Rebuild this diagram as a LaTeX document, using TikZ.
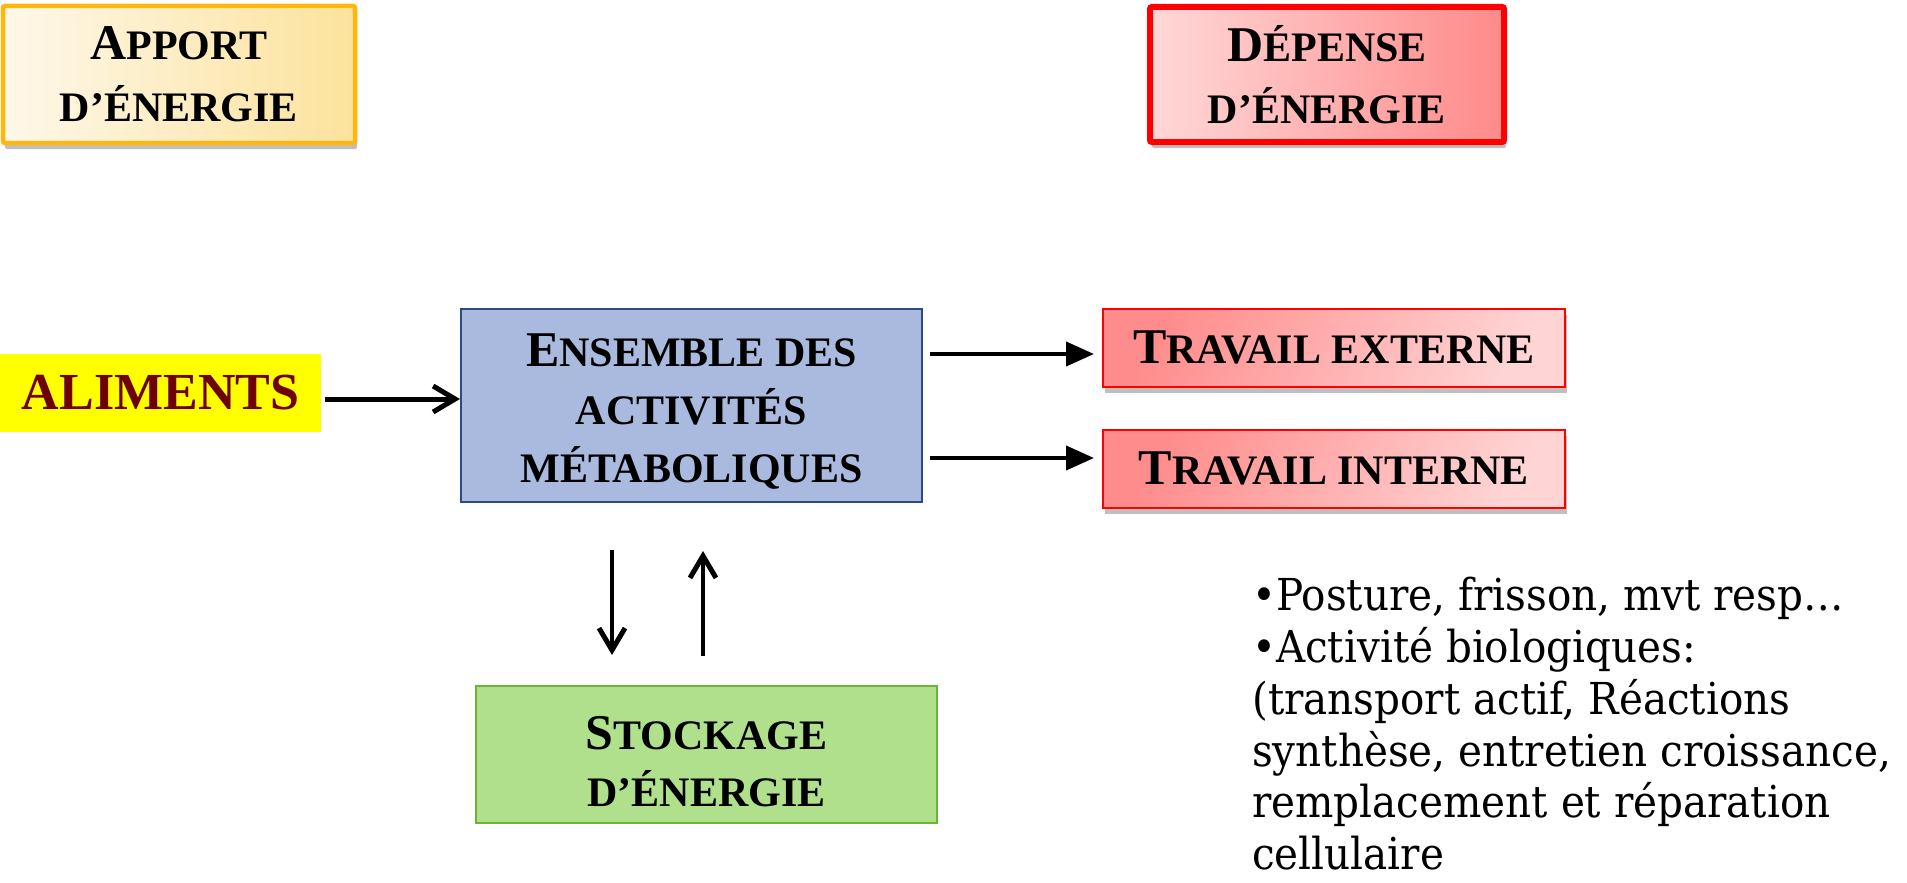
\documentclass[tikz,border=0pt]{standalone}
\usepackage{fontspec}
\setmainfont{Liberation Serif}
\newfontfamily\bulfont[FakeStretch=0.92]{DejaVu Serif}
\usetikzlibrary{arrows.meta,shadows}
\definecolor{apBorder}{HTML}{FFB70F}
\definecolor{apL}{HTML}{FEF8EA}
\definecolor{apR}{HTML}{FCE29C}
\definecolor{dpBorder}{HTML}{FF0000}
\definecolor{dpL}{HTML}{FFD8D8}
\definecolor{dpR}{HTML}{FF8A8A}
\definecolor{alFill}{HTML}{FFFF00}
\definecolor{alText}{HTML}{6E0000}
\definecolor{ctFill}{HTML}{AAB9DE}
\definecolor{ctBorder}{HTML}{2F4A80}
\definecolor{trDark}{HTML}{FF8C8C}
\definecolor{trLight}{HTML}{FFD4D4}
\definecolor{stFill}{HTML}{B0E08C}
\definecolor{stBorder}{HTML}{6AB43A}
\newcommand\bcap[1]{{\fontsize{50}{50}\selectfont #1}}
\newcommand\lowr[1]{\rule{0pt}{#1}}
\begin{document}
\begin{tikzpicture}[x=1pt,y=-1pt,
  box/.style={inner sep=0pt, align=center, text=black,
    font=\bfseries\fontsize{42}{58}\selectfont},
  shadowed/.style={drop shadow={shadow xshift=2pt, shadow yshift=-6pt, fill=black, opacity=0.25}},
  apportbox/.style={box, shadowed, draw=apBorder, line width=4.5pt, rounded corners=2pt,
    left color=apL, right color=apR, minimum width=352pt, minimum height=137pt,
    font=\bfseries\fontsize{42}{62}\selectfont},
  depensebox/.style={box, shadowed, draw=dpBorder, line width=6pt, rounded corners=2pt,
    left color=dpL, right color=dpR, minimum width=354pt, minimum height=135pt,
    font=\bfseries\fontsize{42}{62}\selectfont},
  alimbox/.style={box, fill=alFill, minimum width=321pt, minimum height=78pt,
    text=alText, font=\bfseries\fontsize{52}{52}\selectfont},
  centralbox/.style={box, fill=ctFill, draw=ctBorder, line width=2pt,
    minimum width=461pt, minimum height=193pt},
  travbox/.style={box, shadowed, draw=dpBorder, line width=2pt,
    left color=trDark, right color=trLight, shading angle=60,
    minimum width=462pt, minimum height=78pt},
  stockbox/.style={box, fill=stFill, draw=stBorder, line width=2pt,
    minimum width=461pt, minimum height=137pt, font=\bfseries\fontsize{42}{57}\selectfont},
  barb/.style={line width=5pt, -{Straight Barb[length=22pt,width=26pt,line width=5pt]}},
  tri/.style={line width=4pt, -{Triangle[length=28pt,width=24pt]}},
  notes/.style={anchor=north west, inner sep=0pt, align=left,
    font=\bulfont\fontsize{44}{51.8}\selectfont}
]
\useasboundingbox (0,0) rectangle (1907,883);

\node[apportbox] (apport) at (179,74.5) {\bcap{A}PPORT\\D’ÉNERGIE};
\node[depensebox] (depense) at (1327,74.5) {\bcap{D}ÉPENSE\\D’ÉNERGIE};

\node[alimbox] (alim) at (160.5,393) {ALIMENTS};
\node[centralbox] (central) at (691.5,405.5) {\lowr{45pt}\bcap{E}NSEMBLE DES\\ACTIVITÉS\\MÉTABOLIQUES};
\node[travbox] (text) at (1334,347.5) {\bcap{T}RAVAIL EXTERNE};
\node[travbox] (tint) at (1334,468.5) {\bcap{T}RAVAIL INTERNE};
\node[stockbox] (stock) at (706.5,754.5) {\lowr{48pt}\bcap{S}TOCKAGE\\D’ÉNERGIE};

\node[notes] (notes) at (1252,577) {•Posture, frisson, mvt resp…\\•Activité biologiques:\\(transport actif, Réactions\\synthèse, entretien croissance,\\remplacement et réparation\\cellulaire};

\coordinate (a1) at (325,399);
\coordinate (a2) at (460,399);
\draw[barb] (alim.east |- a1) ++(4,0) -- (central.west |- a2);

\coordinate (e1) at (930,354);
\coordinate (i1) at (930,458);
\draw[tri] (e1) -- ([xshift=-8pt]text.west |- e1);
\draw[tri] (i1) -- ([xshift=-8pt]tint.west |- i1);

\coordinate (d1) at (612,550);
\coordinate (u1) at (703,656);
\draw[barb, line width=4.5pt] (d1) -- ([yshift=30pt]stock.north -| d1);
\draw[barb, line width=4.5pt] (u1) -- ([yshift=-48pt]central.south -| u1);
\end{tikzpicture}
\end{document}
